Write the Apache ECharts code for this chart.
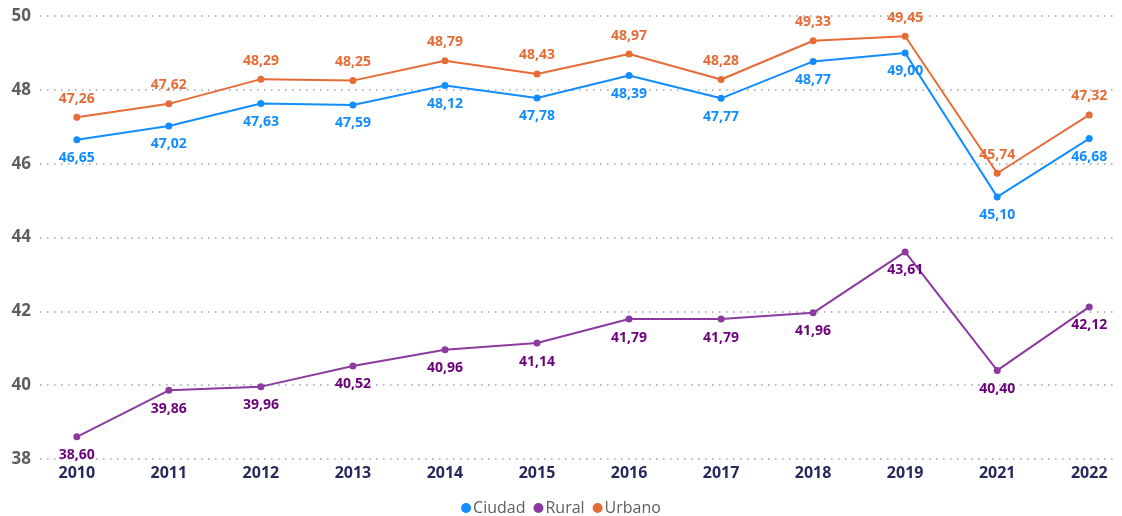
<!DOCTYPE html>
<html>
<head>
<meta charset="utf-8">
<style>
  html, body { margin: 0; padding: 0; background: #fff; }
  #chart { width: 1122px; height: 516px; }
</style>
<script src="https://cdn.jsdelivr.net/npm/echarts@6/dist/echarts.min.js"></script>
</head>
<body>
<div id="chart"></div>
<script>
  // años (no hay 2020)
  var years = ['2010', '2011', '2012', '2013', '2014', '2015', '2016', '2017', '2018', '2019', '2021', '2022'];
  var ciudad = [46.65, 47.02, 47.63, 47.59, 48.12, 47.78, 48.39, 47.77, 48.77, 49.00, 45.10, 46.68];
  var rural = [38.60, 39.86, 39.96, 40.52, 40.96, 41.14, 41.79, 41.79, 41.96, 43.61, 40.40, 42.12];
  var urbano = [47.26, 47.62, 48.29, 48.25, 48.79, 48.43, 48.97, 48.28, 49.33, 49.45, 45.74, 47.32];
  var yTicks = [38, 40, 42, 44, 46, 48, 50];

  var font = '"Open Sans", "Noto Sans", sans-serif';

  function pairs(arr) {
    return arr.map(function (v, i) { return [i, v]; });
  }
  function fmt(p) {
    return p.value[1].toFixed(2).replace('.', ',');
  }
  function serie(name, data, color, labelColor, pos) {
    return {
      name: name,
      type: 'line',
      data: pairs(data),
      symbol: 'circle',
      symbolSize: 7,
      lineStyle: { width: 2, color: color },
      itemStyle: { color: color },
      label: {
        show: true,
        position: pos,
        distance: 8,
        formatter: fmt,
        color: labelColor,
        fontFamily: font,
        fontWeight: 'bold',
        fontSize: 14
      }
    };
  }

  var chart = echarts.init(document.getElementById('chart'));
  chart.setOption({
    animation: false,
    textStyle: { fontFamily: font },
    grid: { left: 40, right: 7, top: 16, bottom: 57, containLabel: false },
    legend: {
      top: 495,
      left: 'center',
      icon: 'circle',
      itemWidth: 10,
      itemHeight: 10,
      itemGap: 8,
      textStyle: { color: '#605e5c', fontSize: 16, fontFamily: font, padding: [0, 0, 0, -3] },
      data: ['Ciudad', 'Rural', 'Urbano']
    },
    xAxis: {
      type: 'value',
      min: -0.4,
      max: 11.28,
      splitLine: { show: false },
      axisLine: { show: false },
      axisTick: { show: false },
      axisLabel: {
        customValues: years.map(function (y, i) { return i; }),
        formatter: function (v) { return years[Math.round(v)]; },
        color: '#252a5a',
        fontWeight: 'bold',
        fontSize: 16,
        fontFamily: font,
        margin: 6
      }
    },
    yAxis: {
      type: 'value',
      min: yTicks[0],
      max: yTicks[yTicks.length - 1],
      interval: 2,
      axisLine: { show: false },
      axisTick: { show: false },
      splitLine: { lineStyle: { type: [1.5, 5.5], color: '#9a9fb5', width: 1.5 } },
      axisLabel: {
        color: '#605e5c',
        fontSize: 17,
        fontWeight: 'bold',
        fontFamily: font,
        margin: 9
      }
    },
    series: [
      serie('Ciudad', ciudad, '#118dff', '#118dff', 'bottom'),
      serie('Rural', rural, '#8c3a9e', '#6b007b', 'bottom'),
      serie('Urbano', urbano, '#e66c37', '#e66c37', 'top')
    ]
  });
</script>
</body>
</html>
